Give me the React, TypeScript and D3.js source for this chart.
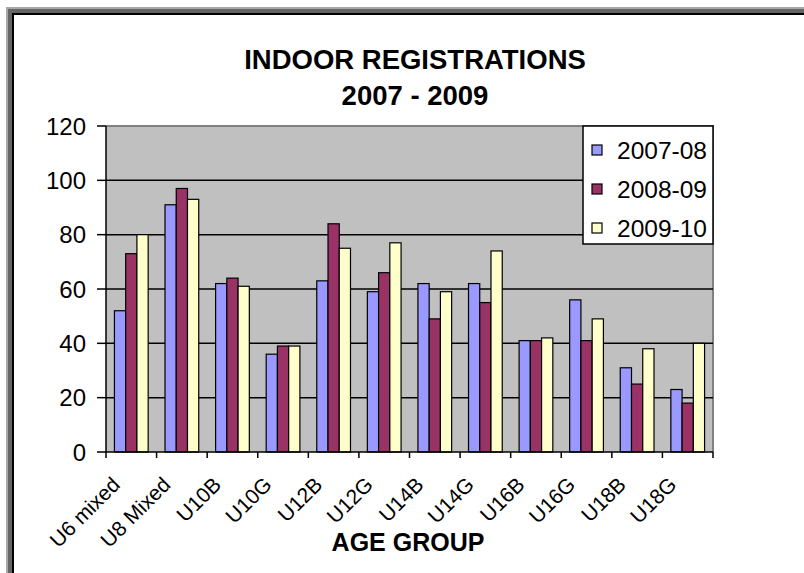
import React from 'react';
import * as d3 from 'd3';

const categories = ['U6 mixed', 'U8 Mixed', 'U10B', 'U10G', 'U12B', 'U12G', 'U14B', 'U14G', 'U16B', 'U16G', 'U18B', 'U18G'];
const seriesNames = ['2007-08', '2008-09', '2009-10'];
const values0708 = [52, 91, 62, 36, 63, 59, 62, 62, 41, 56, 31, 23];
const values0809 = [73, 97, 64, 39, 84, 66, 49, 55, 41, 41, 25, 18];
const values0910 = [80, 93, 61, 39, 75, 77, 59, 74, 42, 49, 38, 40];
const yTicks = [0, 20, 40, 60, 80, 100, 120];
const colors = ['#9999FF', '#993366', '#FFFFCC'];

const font = 'Liberation Sans, Arial, sans-serif';

export default function App() {
  const W = 804, H = 573;
  const plot = { left: 106, top: 126, right: 713, bottom: 452 };
  const series = [values0708, values0809, values0910];

  const x = d3.scaleBand<string>().domain(categories).range([plot.left, plot.right]).paddingInner(0);
  const y = d3.scaleLinear().domain([0, 120]).range([plot.bottom, plot.top]);
  // excel gap width 150% -> bar = band / 4.5
  const barW = x.bandwidth() / 4.5;
  const groupOff = barW * 0.75;

  return (
    <svg width={W} height={H} style={{ position: 'absolute', left: 0, top: 0, display: 'block', background: '#fff' }}>
      {/* window frame on left/top */}
      <rect x={6} y={7} width={W} height={H} fill="#a8a8a8" />
      <rect x={8} y={9} width={W} height={H} fill="#666" />
      <rect x={12} y={13} width={W} height={H} fill="#000" />
      <rect x={14} y={15} width={W} height={H} fill="#fff" />

      <text x={415} y={69} textAnchor="middle" fontFamily={font} fontWeight="bold" fontSize={27.5}>INDOOR REGISTRATIONS</text>
      <text x={415} y={105} textAnchor="middle" fontFamily={font} fontWeight="bold" fontSize={27.5}>2007 - 2009</text>

      <rect x={plot.left} y={plot.top} width={plot.right - plot.left} height={plot.bottom - plot.top} fill="#C0C0C0" />
      <path d={`M${plot.left},${plot.top}H${plot.right}V${plot.bottom}`} fill="none" stroke="#808080" strokeWidth={2} />

      {yTicks.filter(t => t > 0 && t < 120).map(t => (
        <line key={t} x1={plot.left} x2={plot.right} y1={y(t)} y2={y(t)} stroke="#000" strokeWidth={1.5} />
      ))}

      {categories.map((c, i) => (
        <g key={c}>
          {series.map((vals, s) => (
            <rect key={s}
              x={(x(c) as number) + groupOff + s * barW}
              y={y(vals[i])}
              width={barW}
              height={y(0) - y(vals[i])}
              fill={colors[s]} stroke="#000" strokeWidth={1.2} />
          ))}
        </g>
      ))}

      {/* y axis */}
      <line x1={plot.left} x2={plot.left} y1={plot.top} y2={plot.bottom} stroke="#000" strokeWidth={1.5} />
      {yTicks.map(t => (
        <g key={t}>
          <line x1={plot.left - 9} x2={plot.left} y1={y(t)} y2={y(t)} stroke="#000" strokeWidth={1.5} />
          <text x={86} y={y(t) + 8.5} textAnchor="end" fontFamily={font} fontSize={24}>{t}</text>
        </g>
      ))}

      {/* x axis */}
      <line x1={plot.left} x2={plot.right} y1={plot.bottom} y2={plot.bottom} stroke="#000" strokeWidth={1.5} />
      {categories.concat(['']).map((c, i) => {
        const xp = plot.left + i * x.step();
        return <line key={'t' + i} x1={xp} x2={xp} y1={plot.bottom} y2={plot.bottom + 6} stroke="#000" strokeWidth={1.5} />;
      })}
      {categories.map(c => {
        const cx = (x(c) as number) + x.bandwidth() / 2 - 10;
        return (
          <text key={'l' + c} transform={`translate(${cx},486) rotate(-45)`} textAnchor="end" fontFamily={font} fontSize={21}>{c}</text>
        );
      })}

      <text x={408} y={551} textAnchor="middle" fontFamily={font} fontWeight="bold" fontSize={25}>AGE GROUP</text>

      {/* legend */}
      <rect x={583} y={126} width={130} height={118} fill="#fff" stroke="#000" strokeWidth={1.5} />
      {seriesNames.map((n, s) => (
        <g key={n} transform={`translate(592,${150 + s * 39})`}>
          <rect x={0} y={-5} width={10} height={10} fill={colors[s]} stroke="#000" strokeWidth={1.2} />
          <text x={25} y={8.5} fontFamily={font} fontSize={24.5}>{n}</text>
        </g>
      ))}
    </svg>
  );
}
